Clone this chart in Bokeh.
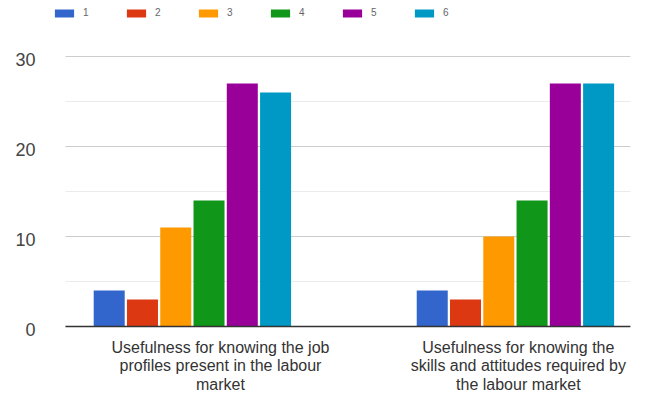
from bokeh.plotting import figure
from bokeh.models import Range1d, Legend, LegendItem
from bokeh.embed import file_html
from bokeh.resources import INLINE

# ---- data ----
categories = [
    ["Usefulness for knowing the job", "profiles present in the labour", "market"],
    ["Usefulness for knowing the", "skills and attitudes required by", "the labour market"],
]
series = ["1", "2", "3", "4", "5", "6"]
values = {
    "1": [4, 4],
    "2": [3, 3],
    "3": [11, 10],
    "4": [14, 14],
    "5": [27, 27],
    "6": [26, 27],
}
y_ticks = [0, 10, 20, 30]
y_minor = [5, 15, 25]

colors = ["#3366cc", "#dc3912", "#ff9900", "#109618", "#990099", "#0099c6"]
FONT = "Liberation Sans"

# plot area (in data units) and full canvas ranges
AREA_LEFT, AREA_RIGHT = -0.393, 1.356
p = figure(width=638, height=398, output_backend="svg", toolbar_location=None,
           x_range=Range1d(-0.594, 1.381), y_range=Range1d(-8.0, 36.22),
           x_axis_location=None, y_axis_location=None,
           min_border=0)
p.outline_line_color = None
p.grid.visible = False
p.background_fill_color = "white"
p.border_fill_color = "white"

# grid lines
p.segment(x0=AREA_LEFT, x1=AREA_RIGHT, y0=y_minor, y1=y_minor,
          line_color="#ebebeb", line_width=1)
p.segment(x0=AREA_LEFT, x1=AREA_RIGHT, y0=y_ticks[1:], y1=y_ticks[1:],
          line_color="#cccccc", line_width=1)

step = 0.103
width = 0.096
xs = list(range(len(categories)))
items = []
for j, (s, c) in enumerate(zip(series, colors)):
    off = (j - (len(series) - 1) / 2) * step
    r = p.vbar(x=[x + off for x in xs], top=values[s], width=width,
               bottom=0, fill_color=c, line_color=None)
    items.append(LegendItem(label=s, renderers=[r]))

# baseline
p.segment(x0=AREA_LEFT, x1=AREA_RIGHT, y0=0, y1=0, line_color="#333333", line_width=1.5)

# y tick labels
p.text(x=[AREA_LEFT] * len(y_ticks), y=y_ticks, text=[str(t) for t in y_ticks],
       x_offset=-30, y_offset=3, text_align="right", text_baseline="middle",
       text_font={"value": FONT}, text_font_size="18px", text_color="#444444")

# category labels
label_offsets = [0.087, 0.009]
for i, lines in enumerate(categories):
    for k, line in enumerate(lines):
        p.text(x=[i + label_offsets[i]], y=[0], text=[line],
               y_offset=21 + 18.5 * k, text_align="center", text_baseline="middle",
               text_font={"value": FONT}, text_font_size="16px",
               text_color="#333333")

legend = Legend(items=items, location=(52, 380), orientation="horizontal",
                glyph_width=24, glyph_height=10, label_standoff=7, spacing=21,
                padding=0, margin=0, border_line_color=None,
                background_fill_alpha=0, label_text_font=FONT,
                label_text_font_size="10px", label_text_color="#666666",
                label_height=10)
p.add_layout(legend, "center")

open("out.html", "w").write(file_html(p, INLINE))
